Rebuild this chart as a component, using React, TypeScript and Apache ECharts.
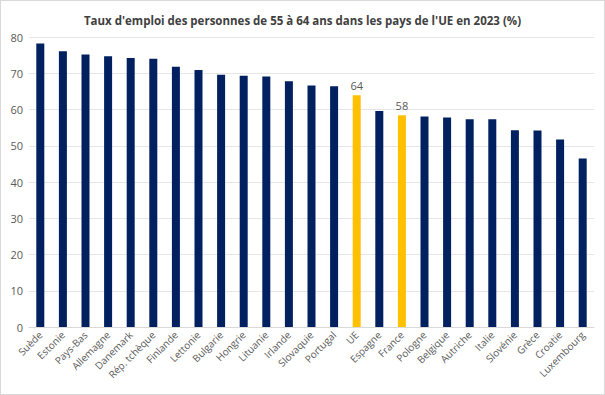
import React, { useEffect, useRef } from "react";
import * as echarts from "echarts";

const countries = [
  "Suède", "Estonie", "Pays-Bas", "Allemagne", "Danemark", "Rép. tchèque",
  "Finlande", "Lettonie", "Bulgarie", "Hongrie", "Lituanie", "Irlande",
  "Slovaquie", "Portugal", "UE", "Espagne", "France", "Pologne", "Belgique",
  "Autriche", "Italie", "Slovénie", "Grèce", "Croatie", "Luxembourg",
];
const rates = [
  78.2, 76.1, 75.2, 74.7, 74.2, 74.0, 71.8, 70.9, 69.6, 69.3, 69.1, 67.8,
  66.6, 66.4, 63.9, 59.6, 58.4, 58.1, 57.8, 57.3, 57.3, 54.3, 54.2, 51.7, 46.5,
];
const highlighted = ["UE", "France"];
const yTicks = [0, 10, 20, 30, 40, 50, 60, 70, 80];

const NAVY = "#002060";
const GOLD = "#FFC000";

export default function App() {
  const ref = useRef<HTMLDivElement>(null);
  useEffect(() => {
    if (!ref.current) return;
    const chart = echarts.init(ref.current, null, { renderer: "svg" });
    chart.setOption({
      animation: false,
      backgroundColor: "#ffffff",
      title: {
        text: "Taux d'emploi des personnes de 55 à 64 ans dans les pays de l'UE en 2023 (%)",
        left: "center",
        top: 8,
        textStyle: {
          fontFamily: "Open Sans",
          fontSize: 11.5,
          fontWeight: "bold",
          color: "#404040",
        },
      },
      grid: { left: 28, right: 10, top: 36, bottom: 67 },
      xAxis: {
        type: "category",
        data: countries,
        axisTick: { show: false },
        axisLine: { lineStyle: { color: "#d9d9d9" } },
        axisLabel: {
          rotate: 45,
          interval: 0,
          color: "#595959",
          fontFamily: "Open Sans",
          fontSize: 10,
          margin: 6,
        },
      },
      yAxis: {
        type: "value",
        min: yTicks[0],
        max: yTicks[yTicks.length - 1],
        interval: 10,
        axisLabel: {
          color: "#595959",
          fontFamily: "Open Sans",
          fontSize: 11,
          margin: 6,
        },
        splitLine: { lineStyle: { color: "#e6e6e6" } },
        axisLine: { show: false },
        axisTick: { show: false },
      },
      series: [
        {
          type: "bar",
          barWidth: 8,
          data: rates.map((v, i) => {
            const hl = highlighted.includes(countries[i]);
            return {
              value: v,
              itemStyle: { color: hl ? GOLD : NAVY },
              label: hl
                ? {
                    show: true,
                    position: "top",
                    formatter: () => String(Math.round(v)),
                    color: "#595959",
                    fontFamily: "Open Sans",
                    fontSize: 11,
                    distance: 4,
                  }
                : { show: false },
            };
          }),
        },
      ],
    });
    return () => chart.dispose();
  }, []);
  return (
    <div
      style={{
        position: "fixed",
        left: 0,
        top: 0,
        width: 605,
        height: 395,
        boxSizing: "border-box",
        border: "1px solid #d9d9d9",
        background: "#fff",
      }}
    >
      <div ref={ref} style={{ width: 603, height: 393 }} />
    </div>
  );
}
